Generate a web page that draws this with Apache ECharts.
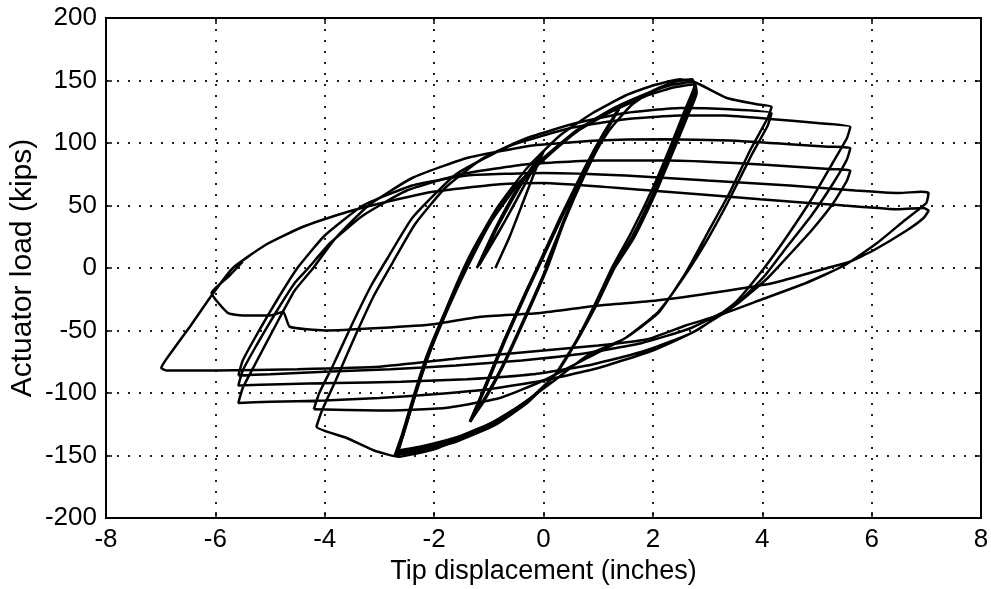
<!DOCTYPE html>
<html>
<head>
<meta charset="utf-8">
<script src="https://cdn.jsdelivr.net/npm/echarts@6/dist/echarts.min.js"></script>
<style>
html,body{margin:0;padding:0;background:#fff;}
#chart{width:991px;height:589px;}
</style>
</head>
<body>
<div id="chart"></div>
<script>
// Axis ticks
const xTicks = [-8, -6, -4, -2, 0, 2, 4, 6, 8];
const yTicks = [-200, -150, -100, -50, 0, 50, 100, 150, 200];

// Initial small cycles (tip displacement in, actuator load kips)
const cycleSmall = [
  [-0.88,0],[-0.62,25],[-0.38,52],[-0.15,78],[0,93],
  [-0.28,72],[-0.7,38],[-1.22,0],
  [-0.9,30],[-0.5,62],[-0.05,91],
  [-0.35,66],[-0.8,30],[-1.18,2],
  [-0.85,32],[-0.42,66],[-0.02,92]
];

// +/-1.3 in cycles
const cycle13 = [
  [0.02,0],[0.45,46],[0.85,86],[1.2,115],[1.38,128],
  [1.15,111],[0.75,76],[0.35,36],[0.05,0],[-0.35,-40],[-0.75,-78],[-1.1,-106],[-1.35,-123],
  [-1.12,-100],[-0.72,-58],[-0.3,-17],[-0.12,0],[0.3,40],[0.75,80],[1.1,108],[1.4,129],
  [1.17,111],[0.77,76],[0.37,36],[0.07,0],[-0.33,-40],[-0.73,-78],[-1.08,-106],[-1.33,-122],
  [-1.1,-100],[-0.7,-58],[-0.28,-17],[-0.1,0],[0.32,40],[0.77,80],[1.12,108],[1.38,127],
  [1.16,110],[0.76,75],[0.36,35],[0.06,0],[-0.34,-40],[-0.74,-78],[-1.09,-106],[-1.34,-123]
];

// +/-2.7 in cycles
const cycle27 = [
  [-1.34,-123],[-1.12,-100],[-0.72,-58],[-0.3,-17],[-0.1,0],[0.35,42],[0.8,82],[1.2,110],[1.6,130],[2.0,142],[2.4,149],[2.72,151],
  [2.76,146],[2.6,128],[2.3,95],[2.0,64],[1.6,28],[1.25,0],[0.95,-28],[0.6,-58],[0.2,-86],[-0.3,-108],[-0.9,-126],[-1.6,-139],[-2.2,-146],[-2.72,-150],
  [-2.6,-135],[-2.4,-106],[-2.15,-72],[-1.85,-40],[-1.45,-2],[-1.0,36],[-0.5,66],[0,88],[0.6,110],[1.2,126],[1.8,138],[2.3,146],[2.75,149],
  [2.78,143],[2.62,125],[2.32,92],[2.02,61],[1.62,25],[1.28,0],[0.98,-28],[0.62,-57],[0.22,-85],[-0.28,-106],[-0.88,-124],[-1.58,-137],[-2.18,-144],[-2.68,-148],
  [-2.56,-133],[-2.36,-104],[-2.1,-70],[-1.8,-38],[-1.4,0],[-0.96,37],[-0.46,67],[0.04,88],[0.64,110],[1.24,125],[1.84,137],[2.34,144],[2.77,147],
  [2.8,140],[2.64,122],[2.34,90],[2.04,59],[1.64,23],[1.3,0],[1.0,-27],[0.64,-56],[0.24,-84],[-0.26,-105],[-0.86,-122],[-1.56,-135],[-2.16,-142],[-2.65,-146]
];

// +/-4.2 in cycles
const cycle42 = [
  [-2.65,-146],[-2.5,-124],[-2.25,-88],[-1.95,-52],[-1.6,-14],[-1.3,14],[-0.85,48],[-0.3,80],[0.3,106],[0.9,124],[1.5,138],[2.0,146],[2.5,151],[2.8,148],[3.35,136],[3.9,131],[4.17,129],
  [4.1,120],[3.8,96],[3.4,60],[3.0,28],[2.6,-4],[2.1,-36],[1.5,-56],[0.8,-70],[0.2,-90],[-0.5,-112],[-1.2,-130],[-2.0,-145],[-2.65,-151],[-3.1,-146],[-3.6,-136],[-4.15,-127],
  [-4.05,-114],[-3.8,-90],[-3.45,-55],[-3.1,-22],[-2.75,5],[-2.35,35],[-1.8,64],[-1.1,88],[-0.3,104],[0.6,116],[1.5,124],[2.5,128],[3.4,127],[4.17,124],
  [4.1,114],[3.8,90],[3.4,55],[3.0,23],[2.6,-5],[2.1,-35],[1.5,-56],[0.8,-72],[0.0,-90],[-0.8,-104],[-1.8,-112],[-3.0,-114],[-4.2,-113]
];

// +/-5.6 in cycles
const cycle56 = [
  [-4.2,-113],[-4.1,-100],[-3.85,-78],[-3.5,-45],[-3.15,-14],[-2.85,8],[-2.4,40],[-1.6,75],[-0.6,98],[0.5,112],[1.5,119],[2.5,122],[3.3,122],[4.2,119],[5.0,116],[5.61,113],
  [5.55,104],[5.3,85],[4.9,55],[4.4,22],[4.0,-2],[3.5,-28],[2.8,-50],[2.0,-66],[1.0,-80],[0.0,-90],[-1.0,-97],[-2.0,-101],[-3.0,-104],[-4.0,-106],[-5.0,-107],[-5.58,-108],
  [-5.5,-96],[-5.25,-75],[-4.9,-46],[-4.55,-18],[-4.21,0],[-3.8,24],[-3.2,50],[-2.4,72],[-1.4,88],[-0.2,98],[1.0,102],[2.2,103],[3.4,102],[4.5,99],[5.2,97],[5.61,96],
  [5.55,87],[5.3,68],[4.9,42],[4.4,14],[4.05,-6],[3.5,-30],[2.7,-52],[1.8,-67],[0.8,-78],[-0.2,-85],[-1.4,-89],[-2.6,-91],[-3.8,-92],[-4.8,-93],[-5.58,-94],
  [-5.5,-82],[-5.25,-62],[-4.9,-36],[-4.55,-12],[-4.3,0],[-3.9,20],[-3.3,42],[-2.5,62],[-1.5,75],[-0.3,83],[1.0,86],[2.3,86],[3.5,84],[4.6,81],[5.3,79],[5.61,78],
  [5.55,70],[5.3,52],[4.9,30],[4.4,6],[4.1,-8],[3.5,-30],[2.7,-48],[1.8,-60],[0.8,-68],[-0.4,-74],[-1.6,-78],[-2.8,-81],[-4.0,-83],[-5.0,-85],[-5.58,-86]
];

// +/-7 in cycles and final partial reversals
const cycle70 = [
  [-5.58,-86],[-5.5,-74],[-5.2,-50],[-4.85,-24],[-4.5,0],[-4.0,26],[-3.3,50],[-2.4,66],[-1.4,74],[0,76],[1.5,74],[3.0,70],[4.5,66],[5.7,62],[6.5,60],[6.9,61],[7.04,60],
  [7.0,52],[6.6,38],[6.1,20],[5.5,2],[4.8,-12],[4.0,-25],[3.2,-38],[2.6,-46],[1.9,-57],[1.0,-62],[0,-66],[-1.5,-72],[-3.0,-79],[-4.5,-81],[-6.0,-82],[-6.9,-82],[-6.99,-80],
  [-6.75,-64],[-6.45,-46],[-6.07,-22],[-5.68,0],[-5.1,18],[-4.45,32],[-3.8,42],[-3.24,49],[-2.02,61],[-0.8,67],[0,68],[1.95,62],[3.96,55],[5.5,50],[6.5,47],[6.95,48],[7.04,46],
  [6.95,40],[6.64,30],[6.03,14],[5.6,5],[5.19,0],[4.2,-12],[3.23,-19],[2.07,-26],[1.0,-30],[-0.06,-36],[-1.16,-39],[-2.0,-45],[-3.0,-48],[-4.0,-50],[-4.64,-47],[-4.76,-35],
  [-5.0,-38],[-5.5,-38],[-5.77,-36],[-6.07,-20],[-5.74,-6],[-5.5,5]
];

const loops = [cycleSmall, cycle13, cycle27, cycle42, cycle56, cycle70];

const chart = echarts.init(document.getElementById('chart'), null, {renderer: 'canvas'});
const fontFam = 'Liberation Sans, Arial, Helvetica, sans-serif';
const tickLen = 6;

const xMin = xTicks[0], xMax = xTicks[xTicks.length - 1];
const yMin = yTicks[0], yMax = yTicks[yTicks.length - 1];
const xInt = xTicks[1] - xTicks[0];
const yInt = yTicks[1] - yTicks[0];

const dotted = {color: '#222', width: 2, type: [2, 9]};

chart.setOption({
  animation: false,
  backgroundColor: '#fff',
  grid: {left: 106, right: 10, top: 18, bottom: 71, show: true, borderColor: '#000', borderWidth: 2, backgroundColor: 'transparent', containLabel: false, outerBoundsMode: 'none'},
  xAxis: [
    {
      type: 'value', min: xMin, max: xMax, interval: xInt, position: 'bottom',
      name: 'Tip displacement (inches)', nameLocation: 'middle', nameGap: 40, nameMoveOverlap: false,
      nameTextStyle: {fontFamily: fontFam, fontSize: 27, color: '#000'},
      axisLine: {show: true, onZero: false, lineStyle: {color: '#000', width: 2}},
      axisTick: {show: true, inside: true, length: tickLen, lineStyle: {color: '#000', width: 1.5}},
      axisLabel: {fontFamily: fontFam, fontSize: 26, color: '#000', margin: 9},
      splitLine: {show: true, lineStyle: dotted}
    },
    {
      type: 'value', min: xMin, max: xMax, interval: xInt, position: 'top',
      axisLine: {show: true, onZero: false, lineStyle: {color: '#000', width: 2}},
      axisTick: {show: true, inside: true, length: tickLen, lineStyle: {color: '#000', width: 1.5}},
      axisLabel: {show: false}, splitLine: {show: false}
    }
  ],
  yAxis: [
    {
      type: 'value', min: yMin, max: yMax, interval: yInt, position: 'left',
      name: 'Actuator load (kips)', nameLocation: 'middle', nameGap: 68, nameRotate: 90, nameMoveOverlap: false,
      nameTextStyle: {fontFamily: fontFam, fontSize: 30, color: '#000'},
      axisLine: {show: true, onZero: false, lineStyle: {color: '#000', width: 2}},
      axisTick: {show: true, inside: true, length: tickLen, lineStyle: {color: '#000', width: 1.5}},
      axisLabel: {fontFamily: fontFam, fontSize: 26, color: '#000', margin: 9},
      splitLine: {show: true, lineStyle: dotted}
    },
    {
      type: 'value', min: yMin, max: yMax, interval: yInt, position: 'right',
      axisLine: {show: true, onZero: false, lineStyle: {color: '#000', width: 2}},
      axisTick: {show: true, inside: true, length: tickLen, lineStyle: {color: '#000', width: 1.5}},
      axisLabel: {show: false}, splitLine: {show: false}
    }
  ],
  series: loops.map((d, i) => ({
    type: 'line', name: 'loop' + i, data: d, xAxisIndex: 0, yAxisIndex: 0,
    showSymbol: false, symbol: 'none', smooth: 0.15,
    lineStyle: {color: '#000', width: 2.5},
    clip: true
  }))
});
</script>
</body>
</html>
